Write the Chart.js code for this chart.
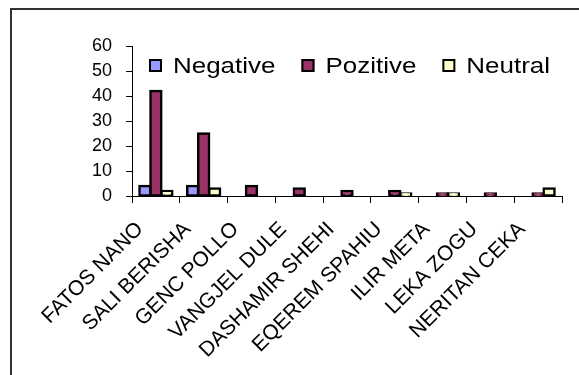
<!DOCTYPE html>
<html>
<head>
<meta charset="utf-8">
<script src="https://cdn.jsdelivr.net/npm/chart.js@4.4.0/dist/chart.umd.min.js"></script>
<style>
  html, body { margin: 0; padding: 0; background: #fff; }
  #wrap { width: 579px; height: 375px; }
</style>
</head>
<body>
<div id="wrap"><canvas id="myChart" width="579" height="375"></canvas></div>
<script>
  // data
  const categories = [
    'FATOS NANO',
    'SALI BERISHA',
    'GENC POLLO',
    'VANGJEL DULE',
    'DASHAMIR SHEHI',
    'EQEREM SPAHIU',
    'ILIR META',
    'LEKA ZOGU',
    'NERITAN CEKA'
  ];
  const negative = [4, 4, 0, 0, 0, 0, 0, 0, 0];
  const pozitive = [42, 25, 4, 3, 2, 2, 1, 1, 1];
  const neutral  = [2, 3, 0, 0, 0, 1, 1, 0, 3];
  const yMin = 0, yMax = 60, yStep = 10;

  const FONT = '"Liberation Sans", Arial, sans-serif';

  // frame round the whole chart (goes off the right and bottom edge)
  const framePlugin = {
    id: 'frame',
    beforeDraw(chart) {
      const ctx = chart.ctx;
      ctx.save();
      ctx.strokeStyle = '#333';
      ctx.lineWidth = 2;
      ctx.strokeRect(11, 9, 700, 500);
      ctx.restore();
    }
  };

  // legend sits inside the plot, like the excel one
  const insideLegend = {
    id: 'insideLegend',
    afterDraw(chart) {
      const ctx = chart.ctx;
      const area = chart.chartArea;
      const box = 13;
      let x = area.left + 17;
      const y = area.top + 13;
      ctx.save();
      ctx.font = '22px ' + FONT;
      ctx.textBaseline = 'middle';
      chart.data.datasets.forEach(ds => {
        ctx.fillStyle = ds.backgroundColor;
        ctx.fillRect(x, y, box, box);
        ctx.strokeStyle = '#000';
        ctx.lineWidth = 2;
        ctx.strokeRect(x + 1, y + 1, box - 2, box - 2);
        const tx = x + box + 11;
        const w = ctx.measureText(ds.label).width * 1.18;
        ctx.save();
        ctx.translate(tx, y + box / 2 + 1);
        ctx.scale(1.18, 1);
        ctx.fillStyle = '#000';
        ctx.fillText(ds.label, 0, 0);
        ctx.restore();
        x = tx + w + 26;
      });
      ctx.restore();
    }
  };

  // excel draws the outline centred on the bar edge and skips empty bars
  const barStyle = {
    borderColor: '#000',
    borderWidth: c => (c.raw === 0 ? 0 : 2.5),
    inflateAmount: c => (c.raw === 0 ? 0 : 1.2),
    borderSkipped: false,
    categoryPercentage: 0.69,
    barPercentage: 1.0
  };

  const data = {
    labels: categories,
    datasets: [
      Object.assign({ label: 'Negative', data: negative, backgroundColor: '#9999FF' }, barStyle),
      Object.assign({ label: 'Pozitive', data: pozitive, backgroundColor: '#993366' }, barStyle),
      Object.assign({ label: 'Neutral',  data: neutral,  backgroundColor: '#FFFFCC' }, barStyle)
    ]
  };

  const config = {
    type: 'bar',
    data: data,
    options: {
      responsive: false,
      animation: false,
      layout: { padding: { left: 0, top: 46, right: 17, bottom: 0 } },
      plugins: {
        legend: { display: false },
        tooltip: { enabled: false }
      },
      scales: {
        x: {
          grid: { offset: true, drawOnChartArea: false, drawTicks: true, tickLength: 7, color: '#000' },
          border: { color: '#000', width: 1 },
          ticks: {
            color: '#000',
            font: { family: FONT, size: 21 },
            autoSkip: false,
            minRotation: 45,
            maxRotation: 45,
            padding: 14,
            labelOffset: -16
          },
          afterFit(scale) { scale.height = 179; }
        },
        y: {
          min: yMin,
          max: yMax,
          grid: { drawOnChartArea: false, drawTicks: true, tickLength: 6, color: '#000' },
          border: { color: '#000', width: 1 },
          ticks: {
            stepSize: yStep,
            color: '#000',
            font: { family: FONT, size: 18 },
            padding: 14
          },
          afterFit(scale) { scale.width = 132; }
        }
      }
    },
    plugins: [framePlugin, insideLegend]
  };

  const myChart = new Chart(document.getElementById('myChart'), config);
</script>
</body>
</html>
